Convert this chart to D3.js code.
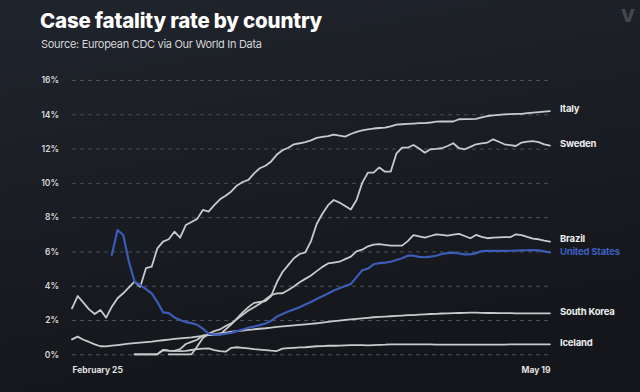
<!DOCTYPE html>
<html>
<head>
<meta charset="utf-8">
<script src="https://cdn.jsdelivr.net/npm/d3@7"></script>
<style>
  html, body { margin: 0; padding: 0; background: #181b21; }
  svg { display: block; }
</style>
</head>
<body>
<svg id="chart" width="640" height="392"></svg>
<script>
// ---------------- DATA ----------------
const startDate = "2020-02-25";
const endDate = "2020-05-19";
const yTicks = [0, 2, 4, 6, 8, 10, 12, 14, 16];
const xTickLabels = ["February 25", "May 19"];

const countries = ["Italy", "Sweden", "Brazil", "United States", "South Korea", "Iceland"];
// first day (offset from Feb 25) of each series
const startOffsets = { "Italy": 0, "Sweden": 11, "Brazil": 17, "United States": 7, "South Korea": 0, "Iceland": 11 };

const italy = [2.68,3.40,3.01,2.62,2.35,2.58,2.14,2.78,3.27,3.56,3.90,4.24,3.94,5.02,5.11,6.18,6.57,6.71,7.15,6.80,
  7.54,7.72,7.90,8.42,8.32,8.70,9.04,9.25,9.50,9.85,10.05,10.17,10.55,10.85,11.00,11.25,11.65,11.90,12.05,12.25,
  12.31,12.38,12.48,12.62,12.68,12.72,12.82,12.76,12.70,12.85,12.97,13.06,13.12,13.17,13.20,13.22,13.30,13.40,13.42,13.44,
  13.46,13.48,13.48,13.52,13.57,13.58,13.58,13.58,13.71,13.72,13.72,13.73,13.82,13.90,13.94,13.97,14.00,14.01,14.02,14.02,
  14.07,14.10,14.13,14.16,14.19];

const sweden = [0,0,0,0,0, 0.25,0.22,0.20,0.30,0.60, 0.72,0.85,1.10,1.12,1.13, 1.15,1.45,1.75,2.10,2.45,
  2.75,3.00,3.05,3.10,3.40, 4.20,4.80,5.20,5.60,5.85, 5.95,6.60,7.60,8.20,8.70, 9.00,8.85,8.65,8.45,9.00,
  10.00,10.60,10.60,10.90,10.65, 10.65,11.70,12.05,12.05,12.21, 12.00,11.76,11.96,11.98,12.02, 12.15,12.31,12.02,11.96,12.10,
  12.25,12.30,12.35,12.54,12.40, 12.25,12.20,12.15,12.35,12.40, 12.44,12.38,12.25,12.17];

const brazil = [0,0,0,0,0, 0.45,0.95,1.20,1.35,1.45, 1.65,1.80,2.05,2.30,2.55, 2.75,2.95,3.20,3.45,3.55,
  3.56,3.75,3.95,4.20,4.40, 4.60,4.85,5.10,5.30,5.35, 5.40,5.55,5.70,6.00,6.10, 6.30,6.40,6.43,6.38,6.34,
  6.34,6.34,6.60,6.95,6.88, 6.80,6.90,7.00,6.96,6.92, 6.98,7.02,6.90,6.77,6.96, 6.85,6.77,6.80,6.82,6.83,
  6.83,7.00,6.95,6.85,6.75, 6.71,6.63,6.57];

const unitedStates = [5.80,7.25,6.96,5.40,4.24,4.04,3.80,3.55,3.05,2.45,2.40,2.15,2.00,1.88,1.82,1.72,1.50,1.20,
  1.15,1.15,1.20,1.25,1.35,1.45,1.55,1.62,1.70,1.80,1.95,2.20,2.35,2.50,2.62,2.75,2.90,3.05,3.22,3.38,3.55,3.72,
  3.85,3.98,4.10,4.50,4.90,5.00,5.25,5.32,5.35,5.40,5.50,5.60,5.75,5.75,5.68,5.66,5.70,5.75,5.85,5.90,
  5.93,5.88,5.83,5.83,5.90,6.02,6.03,6.03,6.03,6.03,6.04,6.05,6.06,6.07,6.08,6.06,6.00,5.95];

const southKorea = [0.87,1.03,0.85,0.72,0.58,0.47,0.46,0.50,0.54,0.58,0.62,0.65,0.68,0.71,0.74,0.78,0.82,0.86,0.90,0.93,
  0.96,0.99,1.03,1.07,1.12,1.17,1.22,1.27,1.32,1.35,1.38,1.42,1.46,1.49,1.52,1.56,1.60,1.63,1.66,1.69,
  1.72,1.75,1.78,1.81,1.85,1.89,1.93,1.97,2.01,2.04,2.07,2.10,2.13,2.16,2.18,2.20,2.22,2.24,2.26,2.28,
  2.29,2.31,2.33,2.35,2.36,2.38,2.39,2.40,2.41,2.42,2.43,2.43,2.42,2.41,2.41,2.40,2.40,2.40,2.39,2.39,
  2.39,2.39,2.39,2.39,2.39];

const iceland = [0,0,0,0,0, 0.25,0.22,0.20,0.18,0.20, 0.25,0.30,0.33,0.35,0.25, 0.18,0.15,0.38,0.41,0.38,
  0.35,0.30,0.27,0.24,0.21, 0.19,0.33,0.36,0.38,0.40, 0.41,0.44,0.47,0.48,0.50, 0.50,0.51,0.52,0.53,0.53,
  0.54,0.52,0.54,0.55,0.56, 0.58,0.58,0.58,0.58,0.58, 0.58,0.58,0.58,0.57,0.57, 0.57,0.57,0.57,0.57,0.57,
  0.57,0.57,0.57,0.57,0.57, 0.57,0.58,0.58,0.58,0.58, 0.58,0.58,0.58,0.58];

const seriesValues = {
  "Italy": italy, "Sweden": sweden, "Brazil": brazil,
  "United States": unitedStates, "South Korea": southKorea, "Iceland": iceland
};

// ---------------- CHART ----------------
const W = 640, H = 392;
const svg = d3.select("#chart");
const parse = d3.timeParse("%Y-%m-%d");
const t0 = parse(startDate), t1 = parse(endDate);

const x = d3.scaleTime().domain([t0, t1]).range([72, 550]);
const y = d3.scaleLinear().domain([0, 16]).range([354.3, 80]);

// background
const defs = svg.append("defs");
const grad = defs.append("linearGradient").attr("id", "bg").attr("x1", 0).attr("y1", 0).attr("x2", 0.3).attr("y2", 1);
grad.append("stop").attr("offset", "0%").attr("stop-color", "#20242c");
grad.append("stop").attr("offset", "100%").attr("stop-color", "#14161b");
svg.append("rect").attr("width", W).attr("height", H).attr("fill", "url(#bg)");

// title
svg.append("text").attr("x", 40).attr("y", 28)
  .attr("font-family", "Inter, 'Noto Sans', sans-serif").attr("font-weight", 800)
  .attr("font-size", 20.5).attr("fill", "#ffffff").attr("letter-spacing", -0.2)
  .text("Case fatality rate by country");
svg.append("text").attr("x", 41).attr("y", 48)
  .attr("font-family", "Inter, 'Noto Sans', sans-serif").attr("font-weight", 400)
  .attr("font-size", 11).attr("fill", "#d4d6da").attr("letter-spacing", -0.3)
  .text("Source: European CDC via Our World In Data");

// watermark
svg.append("text").attr("x", 628).attr("y", 22).attr("text-anchor", "middle")
  .attr("font-family", "Inter, sans-serif").attr("font-weight", 800).attr("font-size", 18)
  .attr("fill", "#ffffff").attr("opacity", 0.18).text("V");

// grid + y axis
const yAxis = d3.axisLeft(y).tickValues(yTicks).tickFormat(d => d + "%")
  .tickSize(-(550 - 72)).tickPadding(12);
const gy = svg.append("g").attr("transform", "translate(72,0)").call(yAxis);
gy.select(".domain").remove();
gy.selectAll(".tick line").attr("stroke", "#4b4f58").attr("stroke-width", 1).attr("stroke-dasharray", "4,4");
gy.selectAll(".tick text").attr("fill", "#d8d8d8").attr("font-size", 8.5)
  .attr("font-family", "Inter, sans-serif").attr("font-weight", 600).attr("x", -13);

// x axis labels
const xAxis = d3.axisBottom(x).tickValues([t0, t1]).tickFormat((d, i) => xTickLabels[i]).tickSize(0).tickPadding(0);
const gx = svg.append("g").attr("transform", "translate(0,373)").call(xAxis);
gx.select(".domain").remove();
gx.selectAll(".tick text").attr("fill", "#e0e0e0").attr("font-size", 8.5)
  .attr("font-family", "Inter, sans-serif").attr("font-weight", 700).attr("dy", 0)
  .attr("text-anchor", (d, i) => i === 0 ? "start" : "end");

// lines
const line = d3.line().x(d => x(d.date)).y(d => y(d.value));
function seriesData(name) {
  const off = startOffsets[name];
  return seriesValues[name].map((v, i) => ({ date: d3.timeDay.offset(t0, off + i), value: v }));
}
const grey = "#c9cacc", blue = "#3b5cb8";
const order = ["Iceland", "South Korea", "Brazil", "Sweden", "Italy", "United States"];
svg.append("g").selectAll("path").data(order).join("path")
  .attr("d", d => line(seriesData(d)))
  .attr("fill", "none")
  .attr("stroke", d => d === "United States" ? blue : grey)
  .attr("stroke-width", d => d === "United States" ? 2.2 : 1.8)
  .attr("stroke-linejoin", "round").attr("stroke-linecap", "round");

// end labels with simple collision avoidance
const labels = countries.map(name => {
  const vals = seriesValues[name];
  return { name, y: y(vals[vals.length - 1]) - 2 };
}).sort((a, b) => a.y - b.y);
const minGap = 13.5;
for (let iter = 0; iter < 20; iter++) {
  for (let i = 1; i < labels.length; i++) {
    const gap = labels[i].y - labels[i - 1].y;
    if (gap < minGap) {
      const push = (minGap - gap) / 2;
      labels[i - 1].y -= push; labels[i].y += push;
    }
  }
}
svg.append("g").selectAll("text").data(labels).join("text")
  .attr("x", 560).attr("y", d => d.y).attr("dy", "0.35em")
  .attr("font-family", "Inter, sans-serif").attr("font-weight", 700).attr("font-size", 9.5)
  .attr("letter-spacing", -0.2)
  .attr("fill", d => d.name === "United States" ? "#3d5fc2" : "#eeeeee")
  .text(d => d.name);
</script>
</body>
</html>
